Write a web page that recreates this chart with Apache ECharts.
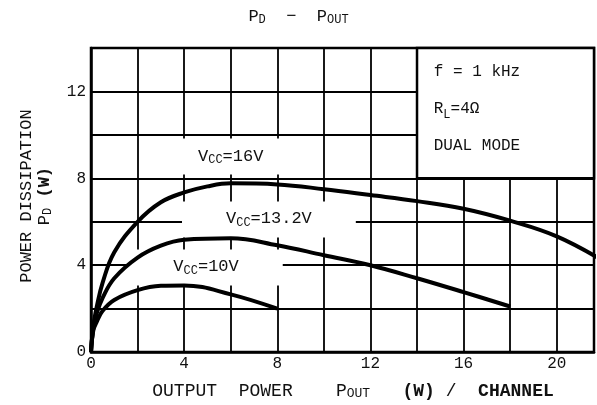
<!DOCTYPE html>
<html>
<head>
<meta charset="utf-8">
<script src="https://cdn.jsdelivr.net/npm/echarts@6/dist/echarts.min.js"></script>
<style>
    html, body { margin: 0; padding: 0; background: #fff; }
    #chart { width: 597px; height: 405px; }
</style>
</head>
<body>
<div id="chart"></div>
<script>
    // 读图得到的数据 (Pout W, Pd W)
    const pout16 = [0, 0.1, 0.25, 0.5, 1, 2, 3, 4, 5, 6, 8, 10, 12, 14, 16, 18, 20, 22];
    const pd16 = [0, 1.2, 2.1, 3.2, 4.6, 6.0, 6.9, 7.35, 7.63, 7.77, 7.72, 7.5, 7.23, 6.95, 6.6, 6.05, 5.33, 4.2];
    const pout132 = [0, 0.1, 0.25, 0.5, 1, 2, 3, 4, 6, 8, 10, 12, 14, 16, 18];
    const pd132 = [0, 1.1, 1.8, 2.5, 3.4, 4.35, 4.9, 5.17, 5.24, 4.92, 4.46, 4.0, 3.4, 2.76, 2.1];
    const pout10 = [0, 0.1, 0.25, 0.5, 1, 2, 3, 4, 6, 8];
    const pd10 = [0, 1.0, 1.4, 1.9, 2.4, 2.85, 3.05, 3.07, 2.66, 2.0];

    const xTicks = [0, 4, 8, 12, 16, 20];
    const yTicks = [0, 4, 8, 12];

    // 曲线标注
    const labelText = ['{m|V}{sub|CC}{m|=16V}', '{m|V}{sub|CC}{m|=13.2V}', '{m|V}{sub|CC}{m|=10V}'];
    const labelX = [6.0, 7.64, 4.94];
    const labelY = [9.0, 6.11, 3.9];

    const font = 'Liberation Mono';
    const rich = {
        sub: {fontFamily: font, fontSize: 12, lineHeight: 12, verticalAlign: 'bottom', padding: [10, 0, 0, 0], color: '#111'},
        b: {fontFamily: font, fontSize: 17, fontWeight: 'bold', lineHeight: 18, verticalAlign: 'top', color: '#111'},
        m: {fontFamily: font, fontSize: 17, lineHeight: 18, verticalAlign: 'top', color: '#111'},
        xm: {fontFamily: font, fontSize: 18, lineHeight: 18, verticalAlign: 'top', color: '#111'},
        xb: {fontFamily: font, fontSize: 18, fontWeight: 'bold', lineHeight: 18, verticalAlign: 'top', color: '#111'},
        xsub: {fontFamily: font, fontSize: 13, lineHeight: 13, verticalAlign: 'bottom', padding: [10, 0, 0, 0], color: '#111'},
        box: {fontFamily: font, fontSize: 16, lineHeight: 37, color: '#111'},
        boxsub: {fontFamily: font, fontSize: 12, lineHeight: 37, padding: [12, 0, 0, 0], color: '#111'}
    };

    function zip(xs, ys) {
        return xs.map((x, i) => [x, ys[i]]);
    }
    function curve(data) {
        return {
            type: 'line',
            data: data,
            smooth: 0.4,
            symbol: 'none',
            z: 5,
            lineStyle: {color: '#000', width: 4}
        };
    }

    let myChart = echarts.init(document.getElementById('chart'));
    myChart.setOption({
        animation: false,
        backgroundColor: '#fff',
        title: {
            text: '{m|P}{sub|D}{m|  −  P}{sub|OUT}',
            left: 'center',
            top: 3,
            textStyle: {fontFamily: font, fontSize: 17, fontWeight: 'normal', color: '#111', rich: rich}
        },
        grid: {
            left: 91, right: 3, top: 48, bottom: 52,
            show: true,
            borderColor: '#000',
            borderWidth: 2.5
        },
        xAxis: {
            type: 'value',
            min: 0, max: 21.6, interval: 2,
            axisLine: {show: true, lineStyle: {color: '#000', width: 2.5}},
            axisTick: {show: false},
            splitLine: {show: true, lineStyle: {color: '#000', width: 1.8}},
            axisLabel: {
                color: '#111', fontFamily: font, fontSize: 16, margin: 4,
                formatter: v => xTicks.indexOf(v) >= 0 ? String(v) : ''
            },
            name: '{xm|OUTPUT  POWER    P}{xsub|OUT}{xm|   }{xb|(W)}{xm| /  }{xb|CHANNEL}',
            nameLocation: 'middle',
            nameGap: 25,
            nameTextStyle: {rich: rich, padding: [0, 0, 0, 21]}
        },
        yAxis: {
            type: 'value',
            min: 0, max: 14, interval: 2,
            axisLine: {show: true, lineStyle: {color: '#000', width: 2.5}},
            axisTick: {show: false},
            splitLine: {show: true, lineStyle: {color: '#000', width: 1.8}},
            axisLabel: {
                color: '#111', fontFamily: font, fontSize: 16, margin: 5,
                formatter: v => yTicks.indexOf(v) >= 0 ? String(v) : ''
            },
            name: '{m|POWER DISSIPATION}\n{m|P}{sub|D}{m| }{b|(W)}',
            nameLocation: 'middle',
            nameRotate: 90,
            nameGap: 37,
            nameTextStyle: {rich: rich, lineHeight: 30, padding: [0, 0, 0, 8]}
        },
        series: [
            curve(zip(pout16, pd16)),
            curve(zip(pout132, pd132)),
            curve(zip(pout10, pd10)),
            {
                type: 'scatter',
                z: 3,
                symbolSize: 1,
                itemStyle: {color: '#fff', opacity: 1},
                data: labelText.map((t, i) => [labelX[i], labelY[i]]),
                label: {
                    show: true,
                    position: 'inside',
                    formatter: p => labelText[p.dataIndex],
                    backgroundColor: '#fff',
                    padding: [9, 44],
                    rich: rich
                },
                markArea: {
                    silent: true,
                    itemStyle: {color: '#fff', borderColor: '#000', borderWidth: 2.5, opacity: 1},
                    label: {
                        show: true,
                        position: 'insideTopLeft',
                        distance: 0,
                        padding: [7, 0, 0, 18],
                        formatter: '{box|f = 1 kHz}\n{box|R}{boxsub|L}{box|=4Ω}\n{box|DUAL MODE}',
                        rich: rich
                    },
                    data: [[{coord: [14, 8]}, {coord: [22, 14]}]]
                }
            }
        ]
    });
</script>
</body>
</html>
